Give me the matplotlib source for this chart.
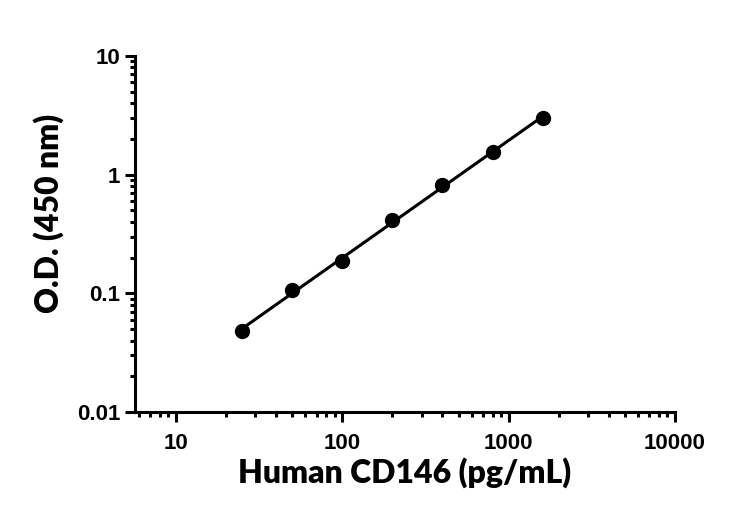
import numpy as np
import matplotlib.pyplot as plt
from matplotlib.ticker import LogLocator, FixedFormatter, FixedLocator

# Standard curve data
conc = [25, 50, 100, 200, 400, 800, 1600]
od = [0.048, 0.107, 0.187, 0.414, 0.813, 1.55, 2.99]

x_ticks = [10, 100, 1000, 10000]
x_labels = ['10', '100', '1000', '10000']
y_ticks = [0.01, 0.1, 1, 10]
y_labels = ['0.01', '0.1', '1', '10']

plt.rcParams['font.family'] = ['Liberation Sans', 'DejaVu Sans']
plt.rcParams['font.weight'] = 'bold'
label_font = ['Lato', 'DejaVu Sans']

fig = plt.figure(figsize=(7.5, 5.19), dpi=100)
ax = fig.add_axes([0.18, 0.2062, 0.72, 0.686])

# straight fit line in log-log space, markers on top
lx = np.log10(conc)
k, b = np.polyfit(lx, np.log10(od), 1)
xf = np.linspace(lx[0], lx[-1], 50)
ax.plot(10 ** xf, 10 ** (k * xf + b), color='black', lw=2.2, zorder=2)
ax.plot(conc, od, 'o', color='black', markersize=10, clip_on=False, zorder=3)

ax.set_xscale('log')
ax.set_yscale('log')
ax.set_xlim(5.67, 10000)
ax.set_ylim(0.01, 10)

ax.xaxis.set_major_locator(FixedLocator(x_ticks))
ax.xaxis.set_major_formatter(FixedFormatter(x_labels))
ax.yaxis.set_major_locator(FixedLocator(y_ticks))
ax.yaxis.set_major_formatter(FixedFormatter(y_labels))
ax.xaxis.set_minor_locator(LogLocator(base=10, subs=np.arange(2, 10), numticks=20))
ax.yaxis.set_minor_locator(LogLocator(base=10, subs=np.arange(2, 10), numticks=20))
ax.xaxis.set_minor_formatter(plt.NullFormatter())
ax.yaxis.set_minor_formatter(plt.NullFormatter())

ax.spines['top'].set_visible(False)
ax.spines['right'].set_visible(False)
for s in ['left', 'bottom']:
    ax.spines[s].set_linewidth(2.2)

ax.tick_params(which='major', direction='out', length=7.2, width=2.2, labelsize=16)
ax.tick_params(which='minor', direction='out', length=3.8, width=2.2)
ax.tick_params(axis='x', which='major', pad=8)
ax.tick_params(axis='y', which='major', pad=3.5)

ax.set_xlabel('Human CD146 (pg/mL)', family=label_font, fontsize=23,
              fontweight='heavy', labelpad=2)
ax.set_ylabel('O.D. (450 nm)', family=label_font, fontsize=23,
              fontweight='heavy')
ax.yaxis.set_label_coords(-0.132, 0.559)

fig.savefig('out.png', dpi=100)
